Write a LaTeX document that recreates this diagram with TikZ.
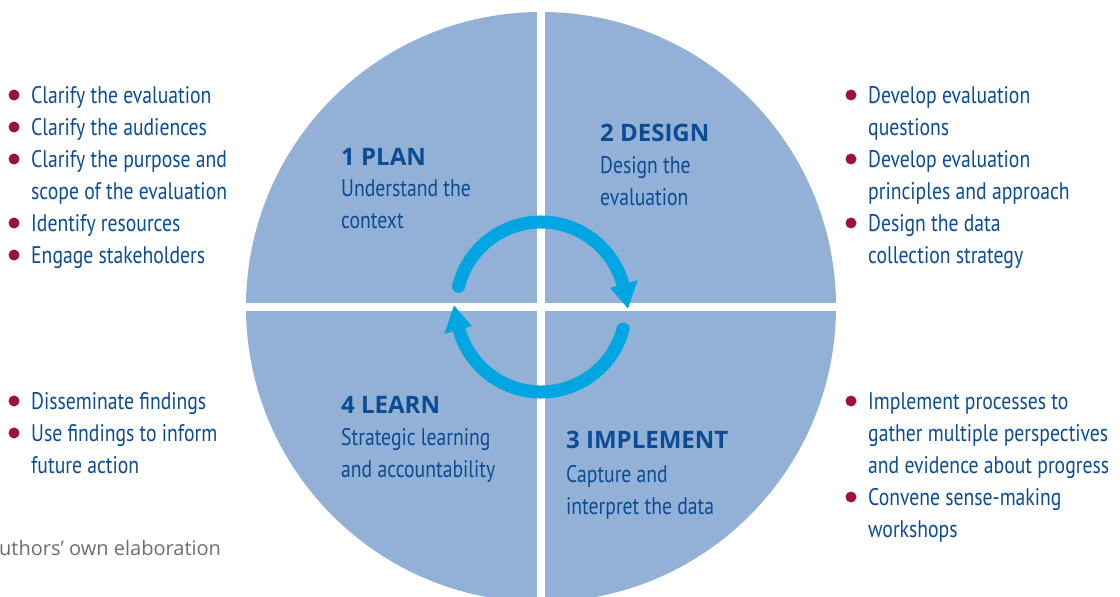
\documentclass[tikz,border=0pt]{standalone}
\usepackage{fontspec}
\setmainfont{PT Sans}
\newfontfamily\condfont{PT Sans}[FakeStretch=0.82]
\newfontfamily\headfont{Open Sans}
\newfontfamily\notefont{Open Sans}
\definecolor{discblue}{HTML}{93B0D6}
\definecolor{textblue}{HTML}{0B4C93}
\definecolor{bulletred}{HTML}{9E1040}
\definecolor{ringcyan}{HTML}{00A6E2}
\definecolor{notegray}{HTML}{6D6E71}
% lines stacked on a 32pt grid, anchored at the first baseline
\newcommand\lines[1]{\begin{tabular}[t]{@{}l@{}}#1\end{tabular}}
\begin{document}
\begin{tikzpicture}[x=1pt,y=-1pt,
  listtext/.style={font=\condfont\fontsize{24}{32}\selectfont, text=textblue,
    inner sep=0pt, anchor=base west},
  headtext/.style={font=\headfont\bfseries\fontsize{24}{32}\selectfont, text=textblue,
    inner sep=0pt, anchor=base west},
  bulletdot/.style={circle, fill=bulletred, minimum size=11pt, inner sep=0pt},
  ring/.style={draw=ringcyan, line width=13pt},
  ringhead/.style={fill=ringcyan}]
\useasboundingbox (0,0) rectangle (1120,597);
\clip (0,0) rectangle (1120,597);

% the disc and the white cross splitting it into four quarters
\node[circle, fill=discblue, minimum size=590pt, inner sep=0pt] (disc) at (541,307) {};
\draw[white, line width=8pt] (disc.north) -- (disc.south);
\draw[white, line width=8pt] (disc.west) -- (disc.east);

% circular arrows in the middle
\coordinate (c) at (541,307);
\draw[ring, line cap=round] ([shift={(c)}]-166:85) arc[start angle=-166, end angle=-14, radius=85];
\fill[ringhead] ([shift={(c)}]-15.5:71.7) -- ([shift={(c)}]-15.5:100.3) -- ([shift={(c)}]1:87) -- cycle;
\draw[ring, line cap=round] ([shift={(c)}]15:85) arc[start angle=15, end angle=166, radius=85];
\fill[ringhead] ([shift={(c)}]164.5:71.7) -- ([shift={(c)}]164.5:100.3) -- ([shift={(c)}]181:87) -- cycle;

% quarter headings
\node[headtext] (plan) at (341,165) {1 PLAN};
\node[listtext] (plansub) at (341,196) {\lines{Understand the\\context}};
\node[headtext] (design) at (600,141) {2 DESIGN};
\node[listtext] (designsub) at (600,173) {\lines{Design the\\evaluation}};
\node[headtext] (learn) at (341,413) {4 LEARN};
\node[listtext] (learnsub) at (341,445) {\lines{Strategic learning\\and accountability}};
\node[headtext] (impl) at (566,448) {3 IMPLEMENT};
\node[listtext] (implsub) at (566,482) {\lines{Capture and\\interpret the data}};

% bulleted lists
\newcommand\listitem[4]{%
  \node[listtext] (#1) at (#2,#3) {\lines{#4}};
  \node[bulletdot] (#1dot) at ([shift={(-17,-8)}]#1.base west) {};}
\listitem{pa}{31}{103}{Clarify the evaluation}
\listitem{pb}{31}{135}{Clarify the audiences}
\listitem{pc}{31}{167}{Clarify the purpose and\\scope of the evaluation}
\listitem{pd}{31}{231}{Identify resources}
\listitem{pe}{31}{263}{Engage stakeholders}

\listitem{da}{868}{103}{Develop evaluation\\questions}
\listitem{db}{868}{167}{Develop evaluation\\principles and approach}
\listitem{dc}{868}{231}{Design the data\\collection strategy}

\listitem{la}{31}{409}{Disseminate findings}
\listitem{lb}{31}{441}{Use findings to inform\\future action}

\listitem{ia}{868}{409}{Implement processes to\\gather multiple perspectives\\and evidence about progress}
\listitem{ib}{868}{505}{Convene sense-making\\workshops}

% source note
\node[font=\notefont\fontsize{20}{24}\selectfont, text=notegray, inner sep=0pt, anchor=base west]
  (note) at (-1,555) {uthors’ own elaboration};
\end{tikzpicture}
\end{document}
